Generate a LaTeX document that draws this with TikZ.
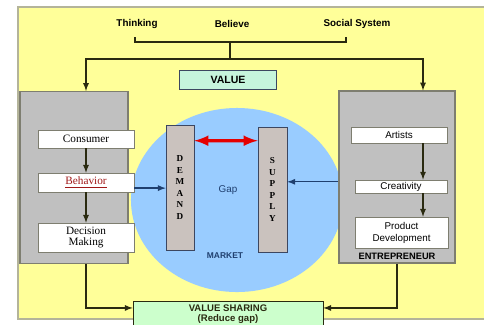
\documentclass[tikz,border=0pt]{standalone}
\usepackage{fontspec}
\setmainfont{Liberation Serif}
\setsansfont{Liberation Sans}
\usepackage{xcolor}
\usepackage{tikz}
\usetikzlibrary{shapes}
\usetikzlibrary{calc}
\definecolor{bgyellow}{HTML}{FFFF99}
\definecolor{bgedge}{HTML}{B4B49A}
\definecolor{boxgray}{HTML}{C0C0C0}
\definecolor{boxedge}{HTML}{7E7E70}
\definecolor{marketblue}{HTML}{99CCFF}
\definecolor{barfill}{HTML}{CAC2BE}
\definecolor{baredge}{HTML}{3C4660}
\definecolor{valuefill}{HTML}{C6F4DC}
\definecolor{sharefill}{HTML}{CCFFCC}
\definecolor{linkcol}{HTML}{2A2A10}
\definecolor{flowblue}{HTML}{1F3F6F}
\definecolor{darkred}{HTML}{A01818}
\tikzset{ outer_box/.style = {rectangle, draw=boxedge, fill=boxgray, line width=0.8pt, inner sep=0pt} }
\tikzset{ item_box/.style = {rectangle, draw=boxedge, fill=white, inner sep=0pt, align=center} }
\tikzset{ bar_box/.style = {rectangle, draw=baredge, fill=barfill, inner sep=0pt, align=center, minimum height=3.125cm,
                            font=\fontsize{6.5}{8.2}\selectfont\bfseries} }
\tikzset{ head_text/.style = {font=\sffamily\bfseries\fontsize{7}{8}\selectfont} }
\tikzset{ link/.style = {draw=linkcol, line width=0.9pt} }
\tikzset{ flow/.style = {draw=flowblue, line width=0.9pt} }

\begin{document}
\begin{tikzpicture}[x=0.025cm, y=-0.025cm, >=latex]
                        \useasboundingbox (0,0) rectangle (484,324);
                        \draw[fill=bgyellow, draw=bgedge, line width=0.8pt] (18,7) rectangle (490,319);
                        \node[ellipse, fill=marketblue, minimum width=5.3cm, minimum height=4.6cm, inner sep=0pt] (market) at (237,200) {};

                        \node[head_text] (thinking) at (137,24) {Thinking};
                        \node[head_text] (believe) at (232,24) {Believe};
                        \node[head_text] (social) at (357,24) {Social System};
                        \coordinate (t1) at (135,37);
                        \coordinate (t2) at (346,37);
                        \coordinate (j1) at (230,42);
                        \coordinate (j2) at (230,59);

                        \node[rectangle, draw=baredge, fill=valuefill, minimum width=2.425cm, minimum height=0.475cm,
                              font=\sffamily\bfseries\fontsize{7.5}{8}\selectfont] (value) at (228,79.5) {VALUE};

                        \node[outer_box, minimum width=2.7cm, minimum height=4.3cm] (lbox) at (74,177.5) {};
                        \node[outer_box, minimum width=2.9cm, minimum height=4.3cm] (rbox) at (397,177) {};

                        \node[item_box, minimum width=2.4cm, minimum height=0.45cm, font=\fontsize{8}{9}\selectfont] (consumer) at (86,139) {Consumer};
                        \node[item_box, minimum width=2.4cm, minimum height=0.475cm, font=\fontsize{8}{9}\selectfont, text=darkred] (behavior) at (86,182.5) {\underline{Behavior}};
                        \node[item_box, minimum width=2.4cm, minimum height=0.725cm, font=\fontsize{8}{8.5}\selectfont] (decision) at (86,237.5) {Decision\\Making};

                        \node[item_box, minimum width=2.4cm, minimum height=0.4cm, font=\sffamily\fontsize{7}{8}\selectfont] (artists) at (399,135) {Artists};
                        \node[item_box, minimum width=2.3cm, minimum height=0.33cm, font=\sffamily\fontsize{7}{8}\selectfont] (creativity) at (401,186.5) {Creativity};
                        \node[item_box, minimum width=2.325cm, minimum height=0.775cm, font=\sffamily\fontsize{7}{8.5}\selectfont] (product) at (401.5,232.5) {Product\\Development};
                        \node[font=\sffamily\bfseries\fontsize{6.6}{7}\selectfont] (entre) at (397,256) {ENTREPRENEUR};
                        \coordinate (rcol) at (423,0);

                        \node[bar_box, minimum width=0.7cm] (demand) at (180,187.5) {D\\E\\M\\A\\N\\D};
                        \node[bar_box, minimum width=0.725cm] (supply) at (272.5,189.5) {S\\U\\P\\P\\L\\Y};
                        \node[font=\sffamily\fontsize{7}{8}\selectfont, text=flowblue] (gap) at (228,190) {Gap};
                        \node[font=\sffamily\bfseries\fontsize{6}{7}\selectfont, text=flowblue] (mkt) at (225,256) {MARKET};

                        \node[rectangle, draw=linkcol, fill=sharefill, minimum width=4.75cm, minimum height=0.65cm, inner sep=0pt, align=center,
                              font=\sffamily\bfseries\fontsize{6.8}{7.2}\selectfont, text=linkcol] (share) at (228,314) {VALUE SHARING\\(Reduce gap)};

                        \draw[link] (t1) |- (j1) -| (t2);
                        \draw[link] (j1) -- (j2);
                        \draw[link, ->] (j2) -| (lbox.north -| consumer);
                        \draw[link, ->] (j2) -| (rbox.north -| rcol);
                        \draw[link, ->] (consumer) -- (behavior);
                        \draw[link, ->] (behavior) -- (decision);
                        \draw[link, ->] (artists.south -| rcol) -- (creativity.north -| rcol);
                        \draw[link, ->] (creativity.south -| rcol) -- (product.north -| rcol);
                        \draw[flow, ->] ([yshift=-0.14cm]behavior.east) -- ([yshift=-0.14cm]behavior.east -| demand.west);
                        \draw[flow, ->] ([yshift=-0.12cm]rbox.west) -- ([yshift=-0.12cm]rbox.west -| supply.east);
                        \draw[draw=red!90!black, line width=2.4pt, <->] ([yshift=-0.4cm]demand.north east) -- ([yshift=-0.35cm]supply.north west);
                        \draw[link, ->] (lbox.south -| consumer) |- ([yshift=4.3pt]share.west);
                        \draw[link, ->] (rbox.south) |- ([yshift=4.3pt]share.east);
                \end{tikzpicture}
\end{document}
